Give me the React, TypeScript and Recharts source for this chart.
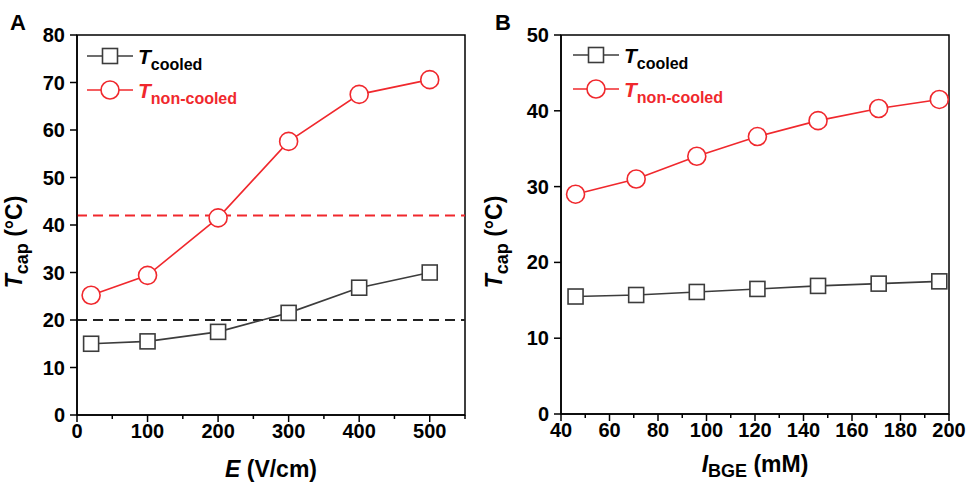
import React from "react";
import {LineChart, Line, XAxis, YAxis, ReferenceLine, ReferenceArea} from "recharts";

const FONT = '"Liberation Sans", Arial, Helvetica, sans-serif';
const BLACK = "#3c3c3c";
const RED = "#f0282d";

// Panel A: capillary temperature vs field strength
const fieldE = [20, 100, 200, 300, 400, 500];
const cooledA = [15.0, 15.5, 17.5, 21.5, 26.8, 30.0];
const nonCooledA = [25.2, 29.4, 41.5, 57.6, 67.5, 70.6];
const xTicksA = [0, 50, 100, 150, 200, 250, 300, 350, 400, 450, 500, 550];
const yTicksA = [0, 10, 20, 30, 40, 50, 60, 70, 80];
const limitRedA = 42;
const limitBlackA = 20;

// Panel B: capillary temperature vs ionic strength of BGE
const ionicB = [46, 71, 96, 121, 146, 171, 196];
const cooledB = [15.5, 15.7, 16.1, 16.5, 16.9, 17.2, 17.5];
const nonCooledB = [29.0, 31.0, 34.0, 36.6, 38.7, 40.3, 41.5];
const xTicksB = [40, 50, 60, 70, 80, 90, 100, 110, 120, 130, 140, 150, 160, 170, 180, 190, 200];
const yTicksB = [0, 10, 20, 30, 40, 50];

const rowsA = fieldE.map((x, i) => ({x, cooled: cooledA[i], nonCooled: nonCooledA[i]}));
const rowsB = ionicB.map((x, i) => ({x, cooled: cooledB[i], nonCooled: nonCooledB[i]}));

const squareDot = (props: any) => {
	const {cx, cy, index} = props;
	return <rect key={"sq" + index} x={cx - 7.5} y={cy - 7.5} width={15} height={15} fill="#fff" stroke={BLACK} strokeWidth={1.6}/>;
};

const makeXTick = (majorStep: number) => (props: any) => {
	const {x, y, payload} = props;
	const major = payload.value % majorStep === 0;
	return (
		<g>
			<line x1={x} x2={x} y1={y} y2={y + (major ? 7 : 4)} stroke="#000" strokeWidth={1.5}/>
			{major && (
				<text x={x} y={y + 23} textAnchor="middle" fontFamily={FONT} fontWeight="bold" fontSize={20} fill="#000">
					{payload.value}
				</text>
			)}
		</g>
	);
};

const yTick = (props: any) => {
	const {x, y, payload} = props;
	return (
		<g>
			<line x1={x - 7} x2={x} y1={y} y2={y} stroke="#000" strokeWidth={1.5}/>
			<text x={x - 12} y={y + 7} textAnchor="end" fontFamily={FONT} fontWeight="bold" fontSize={20} fill="#000">
				{payload.value}
			</text>
		</g>
	);
};

const yTitle = (dx: number) => (props: any) => {
	const {viewBox} = props;
	const cx = viewBox.x + dx;
	const cy = 242;
	return (
		<text x={cx} y={cy} transform={`rotate(-90, ${cx}, ${cy})`} textAnchor="middle" fontFamily={FONT} fontWeight="bold" fontSize={23} fill="#000">
			<tspan fontStyle="italic">T</tspan>
			<tspan fontSize={18} dy={6}>cap</tspan>
			<tspan dy={-6}> (°C)</tspan>
		</text>
	);
};

const Legend = ({x0, y0}: {x0: number; y0: number}) => (
	<g fontFamily={FONT} fontWeight="bold">
		<line x1={x0} x2={x0 + 46} y1={y0} y2={y0} stroke={BLACK} strokeWidth={1.6}/>
		<rect x={x0 + 15.5} y={y0 - 7.5} width={15} height={15} fill="#fff" stroke={BLACK} strokeWidth={1.6}/>
		<text x={x0 + 51} y={y0 + 8} fontSize={21} fill="#000">
			<tspan fontStyle="italic">T</tspan>
			<tspan fontSize={16} dy={6}>cooled</tspan>
		</text>
		<line x1={x0} x2={x0 + 46} y1={y0 + 34} y2={y0 + 34} stroke={RED} strokeWidth={1.6}/>
		<circle cx={x0 + 23} cy={y0 + 34} r={9} fill="#fff" stroke={RED} strokeWidth={1.6}/>
		<text x={x0 + 51} y={y0 + 42} fontSize={21} fill={RED}>
			<tspan fontStyle="italic">T</tspan>
			<tspan fontSize={16} dy={6}>non-cooled</tspan>
		</text>
	</g>
);

const PanelA = () => (
	<div style={{position: "absolute", left: 0, top: 0, width: 480, height: 484}}>
		<LineChart width={480} height={484} data={rowsA} margin={{top: 35, right: 15, bottom: 0, left: 0}}>
			<XAxis dataKey="x" type="number" domain={[0, 550]} ticks={xTicksA} interval={0} tickSize={0} tickMargin={0}
				tickLine={false} tick={makeXTick(100)} axisLine={{stroke: "#000", strokeWidth: 1.5}} height={69}
				label={{
					content: (p: any) => (
						<text x={p.viewBox.x + p.viewBox.width / 2} y={p.viewBox.y + 62} textAnchor="middle" fontFamily={FONT} fontWeight="bold" fontSize={23} fill="#000">
							<tspan fontStyle="italic">E</tspan> (V/cm)
						</text>
					)
				}}/>
			<YAxis type="number" domain={[0, 80]} ticks={yTicksA} interval={0} tickSize={0} tickMargin={0}
				tickLine={false} tick={yTick} axisLine={{stroke: "#000", strokeWidth: 1.5}} width={77}
				label={{content: yTitle(22)}}/>
			<ReferenceArea x1={0} x2={550} y1={0} y2={80} fill="none" stroke="#000" strokeWidth={1.5}/>
			<ReferenceLine y={limitRedA} stroke={RED} strokeWidth={2} strokeDasharray="10 6"/>
			<ReferenceLine y={limitBlackA} stroke="#222" strokeWidth={2} strokeDasharray="10 6"/>
			<Line dataKey="cooled" stroke={BLACK} strokeWidth={1.6} dot={squareDot} isAnimationActive={false}/>
			<Line dataKey="nonCooled" stroke={RED} strokeWidth={1.6} dot={{r: 9, fill: "#fff", stroke: RED, strokeWidth: 1.6}} isAnimationActive={false}/>
		</LineChart>
		<svg width={480} height={120} style={{position: "absolute", left: 0, top: 0, pointerEvents: "none"}}>
			<text x={10} y={30} fontFamily={FONT} fontWeight="bold" fontSize={22} fill="#000">A</text>
			<Legend x0={87} y0={56}/>
		</svg>
	</div>
);

const PanelB = () => (
	<div style={{position: "absolute", left: 480, top: 0, width: 488, height: 484}}>
		<LineChart width={488} height={484} data={rowsB} margin={{top: 35, right: 19, bottom: 0, left: 0}}>
			<XAxis dataKey="x" type="number" domain={[40, 200]} ticks={xTicksB} interval={0} tickSize={0} tickMargin={0}
				tickLine={false} tick={makeXTick(20)} axisLine={{stroke: "#000", strokeWidth: 1.5}} height={70}
				label={{
					content: (p: any) => (
						<text x={p.viewBox.x + p.viewBox.width / 2} y={p.viewBox.y + 58} textAnchor="middle" fontFamily={FONT} fontWeight="bold" fontSize={23} fill="#000">
							<tspan fontStyle="italic">I</tspan>
							<tspan fontSize={18} dy={5}>BGE</tspan>
							<tspan dy={-5}> (mM)</tspan>
						</text>
					)
				}}/>
			<YAxis type="number" domain={[0, 50]} ticks={yTicksB} interval={0} tickSize={0} tickMargin={0}
				tickLine={false} tick={yTick} axisLine={{stroke: "#000", strokeWidth: 1.5}} width={81}
				label={{content: yTitle(22)}}/>
			<ReferenceArea x1={40} x2={200} y1={0} y2={50} fill="none" stroke="#000" strokeWidth={1.5}/>
			<Line dataKey="cooled" stroke={BLACK} strokeWidth={1.6} dot={squareDot} isAnimationActive={false}/>
			<Line dataKey="nonCooled" stroke={RED} strokeWidth={1.6} dot={{r: 9, fill: "#fff", stroke: RED, strokeWidth: 1.6}} isAnimationActive={false}/>
		</LineChart>
		<svg width={488} height={120} style={{position: "absolute", left: 0, top: 0, pointerEvents: "none"}}>
			<text x={15} y={30} fontFamily={FONT} fontWeight="bold" fontSize={22} fill="#000">B</text>
			<Legend x0={93} y0={55}/>
		</svg>
	</div>
);

export default function App() {
	return (
		<div style={{position: "absolute", left: 0, top: 0, width: 968, height: 484, background: "#fff"}}>
			<PanelA/>
			<PanelB/>
		</div>
	);
}
